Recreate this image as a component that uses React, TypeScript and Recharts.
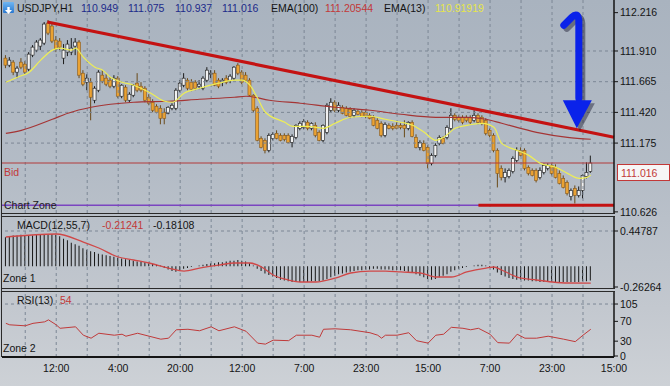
import React from 'react';
import { ComposedChart, Bar, Line, XAxis, YAxis, ReferenceLine, ReferenceDot } from 'recharts';

const FONT = '"Liberation Sans", Arial, sans-serif';

// ---------- USDJPY H1 candles (bar index 0..151) ----------
const opens = [
  111.853, 111.797, 111.821, 111.741, 111.821, 111.805, 111.765, 111.877, 111.917, 111.949,
  111.973, 112.133, 112.109, 111.997, 111.989, 111.853, 111.901, 111.901, 111.949, 111.981,
  111.733, 111.661, 111.661, 111.517, 111.597, 111.717, 111.693, 111.677, 111.629, 111.693,
  111.549, 111.621, 111.517, 111.557, 111.653, 111.629, 111.613, 111.541, 111.501, 111.469,
  111.453, 111.421, 111.413, 111.453, 111.453, 111.597, 111.637, 111.677, 111.661, 111.661,
  111.629, 111.613, 111.677, 111.725, 111.733, 111.677, 111.661, 111.693, 111.677, 111.693,
  111.797, 111.741, 111.717, 111.677, 111.557, 111.453, 111.213, 111.197, 111.117, 111.213,
  111.253, 111.237, 111.237, 111.237, 111.181, 111.221, 111.293, 111.301, 111.341, 111.293,
  111.317, 111.261, 111.197, 111.261, 111.437, 111.501, 111.437, 111.461, 111.453, 111.445,
  111.397, 111.429, 111.421, 111.421, 111.397, 111.381, 111.357, 111.333, 111.237, 111.317,
  111.309, 111.317, 111.317, 111.317, 111.293, 111.341, 111.221, 111.141, 111.173, 111.141,
  111.013, 111.077, 111.173, 111.213, 111.221, 111.293, 111.397, 111.381, 111.381, 111.381,
  111.381, 111.357, 111.397, 111.381, 111.357, 111.277, 111.237, 111.117, 110.973, 110.901,
  110.909, 110.949, 111.037, 111.117, 111.117, 110.981, 110.957, 110.957, 110.901, 110.941,
  110.973, 110.997, 110.981, 110.933, 110.893, 110.861, 110.749, 110.813, 110.757, 110.797,
  110.909, 110.949,
];
const highs = [
  111.877, 111.861, 111.837, 111.789, 111.853, 111.829, 111.901, 111.957, 111.997, 112.013,
  112.141, 112.157, 112.125, 112.029, 112.013, 111.965, 111.997, 112.013, 112.013, 111.997,
  111.757, 111.725, 111.693, 111.629, 111.757, 111.757, 111.725, 111.701, 111.717, 111.709,
  111.645, 111.637, 111.581, 111.645, 111.733, 111.661, 111.629, 111.565, 111.525, 111.485,
  111.477, 111.453, 111.469, 111.493, 111.613, 111.677, 111.733, 111.693, 111.685, 111.677,
  111.677, 111.709, 111.781, 111.757, 111.757, 111.693, 111.693, 111.717, 111.725, 111.789,
  111.813, 111.757, 111.741, 111.693, 111.565, 111.469, 111.229, 111.213, 111.253, 111.261,
  111.277, 111.253, 111.253, 111.253, 111.245, 111.325, 111.349, 111.365, 111.357, 111.341,
  111.341, 111.277, 111.325, 111.493, 111.533, 111.517, 111.501, 111.477, 111.469, 111.461,
  111.453, 111.445, 111.437, 111.437, 111.413, 111.397, 111.373, 111.349, 111.341, 111.333,
  111.333, 111.341, 111.333, 111.357, 111.349, 111.357, 111.245, 111.197, 111.197, 111.157,
  111.093, 111.173, 111.237, 111.229, 111.317, 111.453, 111.413, 111.397, 111.397, 111.397,
  111.397, 111.437, 111.413, 111.397, 111.373, 111.293, 111.253, 111.133, 110.997, 110.973,
  110.973, 111.069, 111.141, 111.141, 111.133, 110.997, 110.973, 110.973, 110.981, 111.013,
  111.013, 111.013, 111.005, 110.957, 110.917, 110.877, 110.813, 110.837, 110.829, 110.925,
  111.021, 111.075,
];
const lows = [
  111.773, 111.781, 111.717, 111.693, 111.765, 111.725, 111.749, 111.861, 111.901, 111.917,
  111.957, 112.037, 111.973, 111.901, 111.917, 111.805, 111.869, 111.877, 111.877, 111.693,
  111.629, 111.597, 111.357, 111.493, 111.581, 111.653, 111.629, 111.613, 111.613, 111.533,
  111.533, 111.501, 111.501, 111.541, 111.581, 111.581, 111.501, 111.477, 111.421, 111.413,
  111.325, 111.325, 111.405, 111.437, 111.437, 111.581, 111.621, 111.597, 111.589, 111.597,
  111.605, 111.597, 111.661, 111.693, 111.629, 111.613, 111.629, 111.645, 111.653, 111.677,
  111.717, 111.645, 111.661, 111.549, 111.421, 111.189, 111.133, 111.093, 111.101, 111.197,
  111.205, 111.189, 111.189, 111.173, 111.141, 111.205, 111.277, 111.285, 111.277, 111.277,
  111.221, 111.189, 111.181, 111.245, 111.421, 111.421, 111.421, 111.405, 111.389, 111.373,
  111.381, 111.397, 111.381, 111.373, 111.365, 111.309, 111.285, 111.221, 111.221, 111.285,
  111.277, 111.285, 111.285, 111.221, 111.277, 111.221, 111.133, 111.117, 111.109, 110.973,
  110.997, 111.061, 111.157, 111.165, 111.205, 111.277, 111.349, 111.341, 111.325, 111.341,
  111.325, 111.341, 111.325, 111.317, 111.237, 111.221, 111.101, 110.821, 110.877, 110.861,
  110.893, 110.933, 111.021, 111.069, 110.957, 110.917, 110.909, 110.861, 110.885, 110.925,
  110.957, 110.917, 110.893, 110.845, 110.813, 110.757, 110.717, 110.693, 110.741, 110.733,
  110.893, 110.937,
];
const closes = [
  111.797, 111.837, 111.741, 111.773, 111.781, 111.741, 111.885, 111.941, 111.981, 111.997,
  112.125, 112.053, 111.989, 111.925, 111.941, 111.917, 111.965, 111.933, 111.981, 111.717,
  111.645, 111.693, 111.541, 111.613, 111.741, 111.669, 111.645, 111.629, 111.693, 111.549,
  111.637, 111.517, 111.565, 111.637, 111.597, 111.597, 111.517, 111.493, 111.437, 111.421,
  111.373, 111.373, 111.461, 111.477, 111.597, 111.653, 111.693, 111.613, 111.605, 111.613,
  111.645, 111.693, 111.757, 111.733, 111.637, 111.629, 111.677, 111.661, 111.709, 111.781,
  111.733, 111.661, 111.677, 111.557, 111.437, 111.197, 111.141, 111.117, 111.237, 111.245,
  111.213, 111.197, 111.205, 111.181, 111.229, 111.317, 111.333, 111.349, 111.293, 111.333,
  111.237, 111.197, 111.317, 111.477, 111.501, 111.437, 111.477, 111.413, 111.397, 111.389,
  111.437, 111.405, 111.389, 111.389, 111.373, 111.317, 111.293, 111.237, 111.325, 111.293,
  111.293, 111.293, 111.301, 111.293, 111.341, 111.229, 111.141, 111.181, 111.117, 111.013,
  111.077, 111.157, 111.221, 111.173, 111.301, 111.397, 111.365, 111.357, 111.341, 111.357,
  111.341, 111.397, 111.341, 111.333, 111.253, 111.237, 111.117, 110.933, 110.901, 110.941,
  110.957, 111.053, 111.117, 111.077, 110.973, 110.933, 110.917, 110.877, 110.957, 110.997,
  110.997, 110.933, 110.901, 110.853, 110.821, 110.773, 110.797, 110.757, 110.797, 110.917,
  110.941, 111.016,
];

// ---------- EMA readings (bar index, price) ----------
const ema13Idx = [0, 3, 6, 9, 12, 14, 17, 18, 20, 23, 25, 27, 30, 33, 37, 41, 43, 46, 50, 55, 59, 61, 63, 65, 67, 72, 74, 78, 80, 82, 85, 89, 94, 98, 102, 105, 108, 111, 113, 116, 119, 123, 126, 128, 132, 135, 138, 142, 145, 148, 150, 151];
const ema13Val = [111.661, 111.701, 111.741, 111.837, 111.917, 111.933, 111.917, 111.933, 111.861, 111.781, 111.757, 111.701, 111.661, 111.637, 111.581, 111.509, 111.501, 111.573, 111.613, 111.653, 111.677, 111.677, 111.637, 111.533, 111.421, 111.341, 111.309, 111.309, 111.301, 111.293, 111.333, 111.381, 111.389, 111.365, 111.341, 111.317, 111.261, 111.197, 111.221, 111.293, 111.317, 111.333, 111.301, 111.173, 111.117, 111.077, 111.013, 110.981, 110.933, 110.893, 110.901, 110.91919];
const ema100Idx = [0, 4, 12, 16, 22, 27, 33, 42, 50, 59, 62, 68, 76, 85, 94, 102, 111, 119, 124, 128, 137, 145, 151];
const ema100Val = [111.253, 111.277, 111.365, 111.413, 111.461, 111.485, 111.501, 111.509, 111.525, 111.541, 111.549, 111.517, 111.493, 111.461, 111.437, 111.405, 111.381, 111.381, 111.365, 111.333, 111.261, 111.221, 111.20544];

// ---------- MACD(12,55,7) ----------
const macdHist = [
  0.37, 0.38, 0.39, 0.39, 0.40, 0.39, 0.39, 0.39, 0.40, 0.40,
  0.41, 0.41, 0.41, 0.40, 0.38, 0.35, 0.33, 0.30, 0.28, 0.26,
  0.23, 0.21, 0.19, 0.18, 0.16, 0.15, 0.14, 0.13, 0.12, 0.11,
  0.10, 0.09, 0.08, 0.07, 0.06, 0.06, 0.05, 0.04, 0.03, 0.02,
  0.01, -0.02, -0.04, -0.06, -0.07, -0.05, -0.03, -0.02, -0.01, 0.00,
  0.01, 0.02, 0.03, 0.04, 0.04, 0.05, 0.05, 0.06, 0.07, 0.07,
  0.08, 0.07, 0.06, 0.04, 0.01, -0.03, -0.06, -0.09, -0.11, -0.13,
  -0.15, -0.17, -0.18, -0.19, -0.20, -0.20, -0.20, -0.20, -0.20, -0.19,
  -0.19, -0.19, -0.18, -0.16, -0.14, -0.12, -0.10, -0.09, -0.08, -0.07,
  -0.06, -0.05, -0.05, -0.04, -0.04, -0.03, -0.03, -0.04, -0.04, -0.04,
  -0.05, -0.05, -0.05, -0.06, -0.07, -0.08, -0.10, -0.12, -0.14, -0.16,
  -0.17, -0.16, -0.14, -0.12, -0.10, -0.07, -0.05, -0.03, -0.02, -0.01,
  0.00, 0.01, 0.02, 0.02, 0.01, -0.01, -0.04, -0.08, -0.11, -0.13,
  -0.15, -0.16, -0.17, -0.17, -0.18, -0.18, -0.19, -0.19, -0.20, -0.20,
  -0.20, -0.20, -0.20, -0.20, -0.20, -0.20, -0.20, -0.20, -0.20, -0.19,
  -0.19, -0.18108,
];
const macdSigIdx = [0, 13, 20, 24, 29, 33, 37, 42, 46, 50, 55, 59, 63, 66, 69, 73, 76, 80, 85, 89, 94, 98, 102, 107, 111, 115, 119, 124, 126, 128, 132, 137, 141, 145, 151];
const macdSigVal = [0.372, 0.410, 0.308, 0.232, 0.118, 0.080, 0.042, -0.022, -0.060, -0.022, 0.016, 0.042, 0.042, -0.009, -0.110, -0.174, -0.199, -0.199, -0.150, -0.085, -0.060, -0.060, -0.072, -0.085, -0.136, -0.136, -0.072, -0.022, -0.009, -0.047, -0.136, -0.174, -0.199, -0.212, -0.21241];

// ---------- RSI(13) ----------
const rsiIdx = [0, 1, 5, 7, 10, 11, 13, 14, 18, 20, 22, 24, 28, 30, 31, 34, 37, 40, 42, 44, 47, 50, 53, 55, 59, 61, 62, 65, 67, 69, 73, 75, 79, 81, 82, 85, 89, 94, 96, 97, 98, 101, 104, 106, 109, 111, 113, 115, 118, 120, 122, 125, 127, 130, 132, 134, 137, 140, 144, 147, 149, 151];
const rsiVal = [66, 63, 61, 66, 69, 73, 63, 56, 59, 42, 36, 46, 42, 44, 40, 46, 40, 34, 36, 53, 54, 51, 59, 51, 59, 53, 50, 26, 24, 32, 31, 42, 42, 38, 54, 55, 53, 47, 42, 36, 42, 42, 47, 31, 26, 42, 44, 58, 56, 53, 56, 44, 27, 26, 44, 36, 36, 40, 34, 29, 42, 54];

// ---------- axes ----------
const priceTicks = [110.626, 111.175, 111.42, 111.665, 111.91, 112.216];
const priceGrid = [111.175, 111.42, 111.665, 111.91];
const macdTicks = [-0.26264, 0.44787];
const rsiTicks = [0, 30, 70, 105];
const timeTicks = [13, 29, 45, 61, 77, 93, 109, 125, 141, 157];
const timeLabels = ['12:00', '4:00', '20:00', '12:00', '7:00', '23:00', '15:00', '7:00', '23:00', '15:00'];
const gridX = [5, 13, 21, 29, 37, 45, 53, 61, 69, 77, 85, 93, 101, 109, 117, 125, 133, 141, 149];

// annotations (data coordinates)
const trendFrom = { i: 10.7, p: 112.141 };
const trendTo = { i: 157, p: 111.222 };
const supportLevel = 110.679;
const supportFrom = 122;
const arrowTip = { i: 147.4, p: 111.293 };

const last = closes.length - 1;
const bid = closes[last];

const candles = closes.map((c, i) => ({ i, o: opens[i], h: highs[i], l: lows[i], c, range: [lows[i], highs[i]] }));
const ema13 = ema13Idx.map((i, k) => ({ i, v: ema13Val[k] }));
const ema100 = ema100Idx.map((i, k) => ({ i, v: ema100Val[k] }));
const macd = macdHist.map((v, i) => ({ i, v }));
const macdSig = macdSigIdx.map((i, k) => ({ i, v: macdSigVal[k] }));
const rsi = rsiIdx.map((i, k) => ({ i, v: rsiVal[k] }));

const X_DOMAIN: [number, number] = [-1, 157];
const GRID = '#7c8795';
const AX = '#151515';

const Candle = (props: any) => {
  const { x, y, width, height, payload } = props;
  if (!payload) return null;
  const top = Math.min(y, y + height);
  const hgt = Math.abs(height);
  const span = payload.h - payload.l || 1;
  const py = (p: number) => top + ((payload.h - p) / span) * hgt;
  const cx = x + width / 2;
  const up = payload.c >= payload.o;
  const bt = py(Math.max(payload.o, payload.c));
  const bb = py(Math.min(payload.o, payload.c));
  return (
    <g>
      <line x1={cx} x2={cx} y1={top} y2={top + hgt} stroke={up ? '#1b1b1b' : '#6a4a18'} strokeWidth={1} />
      <rect x={cx - 1.5} y={bt} width={3} height={Math.max(bb - bt, 1)} fill={up ? '#f2f2f2' : '#eaa233'} stroke={up ? '#1b1b1b' : '#8a5a1c'} strokeWidth={0.6} />
    </g>
  );
};

const BidLabel = (props: any) => {
  const vb = props.viewBox || {};
  const x0 = vb.x, y0 = vb.y, x1 = vb.x + vb.width;
  return (
    <g fontFamily={FONT} fontSize={10.5}>
      <text x={x0 + 2} y={y0 + 13} fill="#c23838">Bid</text>
      <rect x={x1 + 3.5} y={y0 + 1.5} width={52} height={16} fill="#f6f6f6" stroke="#c23838" strokeWidth={1} />
      <text x={x1 + 7} y={y0 + 13.5} fill="#c23838">{bid.toFixed(3)}</text>
    </g>
  );
};

const ZoneLabel = (props: any) => {
  const vb = props.viewBox || {};
  return (
    <text x={vb.x + 2} y={vb.y + 4} fill="#202020" fontFamily={FONT} fontSize={10.5}>Chart Zone</text>
  );
};

const Arrow = (props: any) => {
  const { cx, cy } = props;
  if (cx == null || cy == null) return null;
  const head = `M${cx - 14},${cy - 28} L${cx + 15},${cy - 28} L${cx},${cy} Z`;
  const hook = `M${cx + 2},${cy - 30} L${cx + 2},${cy - 108} Q${cx + 1},${cy - 117} ${cx - 5},${cy - 111} L${cx - 13},${cy - 103}`;
  return (
    <g>
      <g transform="translate(3,3)" opacity={0.45}>
        <path d={hook} stroke="#1a1a30" strokeWidth={7} fill="none" strokeLinecap="round" />
        <path d={head} fill="#1a1a30" />
      </g>
      <path d={hook} stroke="#0a22ea" strokeWidth={7} fill="none" strokeLinecap="round" />
      <path d={head} fill="#0a22ea" />
    </g>
  );
};

const tickStyle = { fill: '#141414', fontSize: 10.5, fontFamily: FONT };

const txt = (left: number, top: number, color: string, s: string) => (
  <div style={{ position: 'absolute', left, top, color, fontSize: 10.5, lineHeight: '12px', fontFamily: FONT, whiteSpace: 'nowrap' }}>{s}</div>
);

const hline = (top: number, left: number, width: number, color = '#2a2a2a', h = 1) => (
  <div style={{ position: 'absolute', top, left, width, height: h, background: color }} />
);

export default function App() {
  return (
    <div style={{ position: 'fixed', left: 0, top: 0, width: 670, height: 386, overflow: 'hidden', background: 'linear-gradient(180deg, #a9b3bf 0%, #b4bcc6 45%, #c3c8cf 80%, #cdd1d6 100%)', fontFamily: FONT }}>
      {/* pane frames */}
      {hline(213, 1, 614)}
      {hline(216, 1, 614)}
      {hline(288, 1, 614)}
      {hline(291, 1, 614)}
      <div style={{ position: 'absolute', left: 1, top: 0, width: 1, height: 357, background: '#2a2a2a' }} />

      {/* main price pane */}
      <div style={{ position: 'absolute', left: 0, top: 0 }}>
        <ComposedChart width={670} height={220} data={candles} margin={{ top: 0, right: 0, left: 2, bottom: 7 }}>
          <XAxis dataKey="i" type="number" domain={X_DOMAIN} hide allowDataOverflow />
          <YAxis orientation="right" width={56} domain={[110.617, 112.317]} ticks={priceTicks} interval={0} allowDataOverflow
            tickFormatter={(v: number) => v.toFixed(3)} tick={tickStyle} tickSize={4} tickLine={{ stroke: AX }} axisLine={{ stroke: AX, strokeWidth: 1.5 }} />
          {gridX.map((g) => <ReferenceLine key={'gx' + g} x={g} stroke={GRID} strokeDasharray="3 3" />)}
          {priceGrid.map((g) => <ReferenceLine key={'gy' + g} y={g} stroke={GRID} strokeDasharray="3 3" />)}
          <ReferenceLine y={supportLevel} stroke="#7b45c0" strokeWidth={1.5} label={<ZoneLabel />} />
          <ReferenceLine y={bid} stroke="#b33a3a" strokeWidth={1} label={<BidLabel />} />
          <Line data={ema100} dataKey="v" type="monotone" stroke="#a53535" strokeWidth={1.2} dot={false} isAnimationActive={false} />
          <Bar dataKey="range" barSize={3} shape={<Candle />} isAnimationActive={false} />
          <Line data={ema13} dataKey="v" type="monotone" stroke="#eeee55" strokeWidth={1.2} dot={false} isAnimationActive={false} />
          <ReferenceLine segment={[{ x: trendFrom.i, y: trendFrom.p }, { x: trendTo.i, y: trendTo.p }]} stroke="#c41212" strokeWidth={3.2} ifOverflow="visible" />
          <ReferenceLine segment={[{ x: supportFrom, y: supportLevel }, { x: 157, y: supportLevel }]} stroke="#c41212" strokeWidth={3.2} ifOverflow="visible" />
          <ReferenceDot x={arrowTip.i} y={arrowTip.p} r={0} shape={<Arrow />} ifOverflow="visible" />
        </ComposedChart>
      </div>

      {/* MACD pane */}
      <div style={{ position: 'absolute', left: 0, top: 210 }}>
        <ComposedChart width={670} height={85} data={macd} margin={{ top: 7, right: 0, left: 2, bottom: 7 }}>
          <XAxis dataKey="i" type="number" domain={X_DOMAIN} hide allowDataOverflow />
          <YAxis orientation="right" width={56} domain={[-0.2753, 0.6255]} ticks={macdTicks} interval={0} allowDataOverflow
            tickFormatter={(v: number) => v.toFixed(5)} tick={tickStyle} tickSize={4} tickLine={{ stroke: AX }} axisLine={{ stroke: AX, strokeWidth: 1.5 }} />
          {gridX.map((g) => <ReferenceLine key={'mx' + g} x={g} stroke={GRID} strokeDasharray="3 3" />)}
          <ReferenceLine y={0.44787} stroke={GRID} strokeDasharray="3 3" />
          <Bar dataKey="v" barSize={1} fill="#161616" isAnimationActive={false} />
          <Line data={macdSig} dataKey="v" type="monotone" stroke="#d04848" strokeWidth={1.3} dot={false} isAnimationActive={false} />
        </ComposedChart>
      </div>

      {/* RSI pane + time axis */}
      <div style={{ position: 'absolute', left: 0, top: 285 }}>
        <ComposedChart width={670} height={101} data={rsi} margin={{ top: 7, right: 0, left: 2, bottom: 0 }}>
          <XAxis dataKey="i" type="number" domain={X_DOMAIN} ticks={timeTicks} interval={0} allowDataOverflow height={29}
            tickFormatter={(v: number) => timeLabels[timeTicks.indexOf(v)]} tick={tickStyle} tickLine={false} axisLine={{ stroke: AX, strokeWidth: 2 }} />
          <YAxis orientation="right" width={56} domain={[-2, 129.3]} ticks={rsiTicks} interval={0} allowDataOverflow
            tick={tickStyle} tickSize={4} tickLine={{ stroke: AX }} axisLine={{ stroke: AX, strokeWidth: 1.5 }} />
          {gridX.map((g) => <ReferenceLine key={'rx' + g} x={g} stroke={GRID} strokeDasharray="3 3" />)}
          <ReferenceLine y={105} stroke={GRID} strokeDasharray="3 3" />
          <Line dataKey="v" type="linear" stroke="#c03a3a" strokeWidth={1} dot={false} isAnimationActive={false} />
        </ComposedChart>
      </div>

      {/* header */}
      <div style={{ position: 'absolute', left: 3, top: 2, width: 11, height: 11, background: 'linear-gradient(180deg,#6fb6f2,#2a78d0)', borderRadius: 1 }}>
        <svg width={11} height={11}><path d="M5.5,9 L2,5 L4.3,5 L4.3,2 L6.7,2 L6.7,5 L9,5 Z" fill="#fff" /></svg>
      </div>
      {txt(17, 2, '#141414', 'USDJPY,H1')}
      {txt(81, 2, '#1d2a8a', opens[last].toFixed(3))}
      {txt(128, 2, '#1d2a8a', highs[last].toFixed(3))}
      {txt(175, 2, '#1d2a8a', lows[last].toFixed(3))}
      {txt(222, 2, '#1d2a8a', closes[last].toFixed(3))}
      {txt(271, 2, '#141414', 'EMA(100)')}
      {txt(325, 2, '#c23838', ema100Val[ema100Val.length - 1].toFixed(5))}
      {txt(384, 2, '#141414', 'EMA(13)')}
      {txt(435, 2, '#e6e64a', ema13Val[ema13Val.length - 1].toFixed(5))}

      {/* sub-pane captions */}
      {txt(17, 219, '#141414', 'MACD(12,55,7)')}
      {txt(102, 219, '#c23838', macdSigVal[macdSigVal.length - 1].toFixed(5))}
      {txt(153, 219, '#141414', macdHist[last].toFixed(5))}
      {txt(3, 272, '#141414', 'Zone 1')}
      {txt(17, 294, '#141414', 'RSI(13)')}
      {txt(60, 294, '#c23838', String(rsiVal[rsiVal.length - 1]))}
      {txt(3, 342, '#141414', 'Zone 2')}
    </div>
  );
}
